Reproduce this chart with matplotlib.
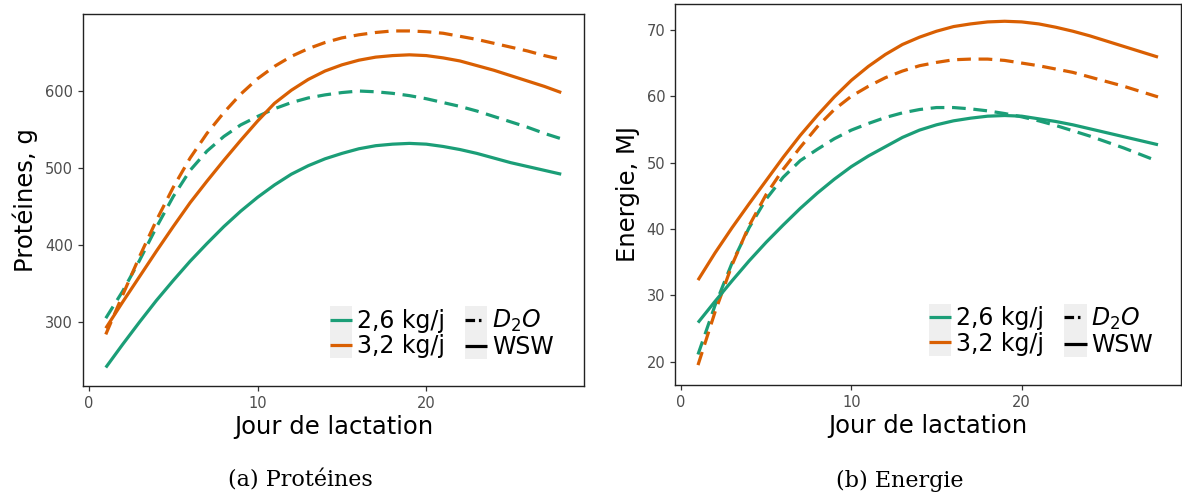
import matplotlib
matplotlib.use("Agg")
import matplotlib.pyplot as plt
from matplotlib.lines import Line2D
from matplotlib.patches import Rectangle
from matplotlib.legend_handler import HandlerLine2D

# ---------------- data ----------------
days = list(range(1, 29))

prot_26_wsw = [241, 271, 300, 328, 354, 379, 402, 424, 444, 462, 478, 492, 503, 512,
               519, 525, 529, 531, 532, 531, 528, 524, 519, 513, 507, 502, 497, 492]
prot_32_wsw = [292, 326, 359, 392, 424, 455, 483, 510, 536, 561, 584, 601, 615, 626,
               634, 640, 644, 646, 647, 646, 643, 639, 633, 627, 620, 613, 606, 598]
prot_26_d2o = [305, 340, 380, 423, 463, 497, 522, 541, 556, 567, 577, 585, 591, 595,
               598, 600, 599, 597, 594, 590, 585, 580, 574, 567, 560, 553, 545, 538]
prot_32_d2o = [284, 335, 385, 432, 475, 513, 545, 572, 596, 616, 632, 645, 655, 663,
               669, 673, 676, 678, 678, 677, 675, 671, 667, 662, 657, 652, 646, 641]

ener_26_wsw = [25.9, 29.1, 32.2, 35.2, 38.0, 40.6, 43.1, 45.4, 47.5, 49.4, 51.0, 52.4,
               53.8, 54.9, 55.7, 56.3, 56.7, 57.0, 57.1, 57.0, 56.6, 56.2, 55.7, 55.1,
               54.5, 53.9, 53.3, 52.7]
ener_32_wsw = [32.3, 36.4, 40.2, 43.8, 47.3, 50.8, 54.1, 57.1, 59.9, 62.4, 64.5, 66.3,
               67.8, 68.9, 69.8, 70.5, 70.9, 71.2, 71.3, 71.2, 70.9, 70.4, 69.8, 69.1,
               68.3, 67.5, 66.7, 65.9]
ener_26_d2o = [21.1, 28.5, 34.9, 40.2, 44.5, 47.8, 50.3, 52.0, 53.6, 54.9, 55.9, 56.8,
               57.5, 58.0, 58.3, 58.3, 58.1, 57.8, 57.4, 56.9, 56.3, 55.6, 54.8, 54.0,
               53.1, 52.2, 51.2, 50.2]
ener_32_d2o = [19.5, 27.5, 34.6, 40.5, 45.2, 49.0, 52.3, 55.4, 58.0, 60.0, 61.5, 62.8,
               63.8, 64.6, 65.1, 65.5, 65.6, 65.6, 65.4, 65.0, 64.6, 64.1, 63.6, 62.9,
               62.2, 61.5, 60.7, 59.9]

group_labels = ["2,6 kg/j", "3,2 kg/j"]
method_labels = ["$D_2O$", "WSW"]
x_ticks = [0, 10, 20]
prot_yticks = [300, 400, 500, 600]
ener_yticks = [20, 30, 40, 50, 60, 70]
x_label = "Jour de lactation"
prot_ylabel = "Protéines, g"
ener_ylabel = "Energie, MJ"
captions = ["(a) Protéines", "(b) Energie"]

# ---------------- style ----------------
GREEN = "#1b9e77"
ORANGE = "#d95f02"
LW = 2.3
DASH = (4.3, 2.4)


class BgHandler(HandlerLine2D):
    def create_artists(self, legend, orig_handle, xdescent, ydescent, width, height,
                       fontsize, trans):
        arts = super().create_artists(legend, orig_handle, xdescent, ydescent, width,
                                      height, fontsize, trans)
        rect = Rectangle((-xdescent, -ydescent - 0.3 * height), width, height * 1.6,
                         facecolor="#efefef", edgecolor="none", transform=trans)
        return [rect] + list(arts)


fig = plt.figure(figsize=(11.82, 4.96), dpi=100)
W, H = 1182, 496


def ax_at(x0, y0, x1, y1):
    return fig.add_axes([x0 / W, 1 - y1 / H, (x1 - x0) / W, (y1 - y0) / H])


axL = ax_at(83, 14, 584, 386)
axR = ax_at(675, 4, 1181, 385)

panels = [
    (axL, [prot_26_d2o, prot_32_d2o, prot_26_wsw, prot_32_wsw], prot_yticks, prot_ylabel,
     (217, 700), (0.94, 0.072)),
    (axR, [ener_26_d2o, ener_32_d2o, ener_26_wsw, ener_32_wsw], ener_yticks, ener_ylabel,
     (16.5, 73.9), (0.945, 0.074)),
]

for ax, series, yt, ylab, ylim, anchor in panels:
    colors = [GREEN, ORANGE, GREEN, ORANGE]
    for i, (vals, c) in enumerate(zip(series, colors)):
        if i < 2:
            ax.plot(days, vals, color=c, lw=LW, dashes=DASH, solid_capstyle="butt",
                    dash_capstyle="butt")
        else:
            ax.plot(days, vals, color=c, lw=LW, solid_capstyle="butt")
    ax.set_xlim(-0.35, 29.35)
    ax.set_ylim(*ylim)
    ax.set_xticks(x_ticks)
    ax.set_yticks(yt)
    ax.tick_params(axis="both", labelsize=10.5, labelcolor="#4d4d4d", color="#333333",
                   length=3.5, width=0.9)
    for s in ax.spines.values():
        s.set_color("#222222")
        s.set_linewidth(1.0)
    ax.set_xlabel(x_label, fontsize=17.5, color="black", labelpad=3)
    ax.set_ylabel(ylab, fontsize=17.5, color="black", labelpad=5)

    handles = [
        Line2D([], [], color=GREEN, lw=LW, solid_capstyle="butt"),
        Line2D([], [], color=ORANGE, lw=LW, solid_capstyle="butt"),
        Line2D([], [], color="black", lw=LW, dashes=(3.0, 1.2, 0.8, 5), dash_capstyle="butt"),
        Line2D([], [], color="black", lw=LW, solid_capstyle="butt"),
    ]
    labels = group_labels + method_labels
    ax.legend(handles, labels, ncol=2, loc="lower right", bbox_to_anchor=anchor,
              frameon=False, fontsize=17, handlelength=0.95, handletextpad=0.2,
              columnspacing=0.85, labelspacing=0.05, borderaxespad=0.0, borderpad=0.0,
              handler_map={Line2D: BgHandler()})

fig.text(300 / W, 1 - 481 / H, captions[0], ha="center", va="center",
         family="DejaVu Serif", fontsize=16)
fig.text(900 / W, 1 - 481 / H, captions[1], ha="center", va="center",
         family="DejaVu Serif", fontsize=16)

fig.savefig("out.png", dpi=100)
